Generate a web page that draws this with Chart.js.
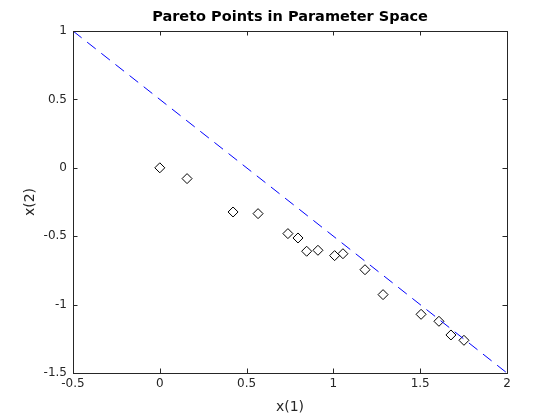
<!DOCTYPE html>
<html>
<head>
<meta charset="utf-8">
<script src="https://cdn.jsdelivr.net/npm/chart.js@4"></script>
<style>
  html, body { margin: 0; padding: 0; background: #fff; }
  #wrap { width: 560px; height: 420px; }
</style>
</head>
<body>
<div id="wrap"><canvas id="paretoChart"></canvas></div>
<script>
// pareto points
var paretoX = [0, 0.157, 0.422, 0.566, 0.738, 0.796, 0.846, 0.911, 1.007, 1.055, 1.182, 1.286, 1.505, 1.608, 1.677, 1.752];
var paretoY = [0, -0.079, -0.323, -0.335, -0.481, -0.513, -0.610, -0.603, -0.642, -0.628, -0.745, -0.927, -1.071, -1.122, -1.222, -1.261];
// dashed reference line
var lineX = [-0.5, 2];
var lineY = [1, -1.5];
// axis limits / ticks
var xTicks = [-0.5, 0, 0.5, 1, 1.5, 2];
var yTicks = [-1.5, -1, -0.5, 0, 0.5, 1];

var axisColor = '#262626';

function toPoints(xs, ys) {
    var pts = [];
    for (var i = 0; i < xs.length; i++) {
        pts.push({ x: xs[i], y: ys[i] });
    }
    return pts;
}

// box on + inward ticks on all four sides, like matlab
const boxTicks = {
    id: 'boxTicks',
    afterDraw: (chart) => {
        const { ctx, chartArea } = chart;
        const xs = chart.scales.x, ys = chart.scales.y;
        const tl = 4.5;
        ctx.save();
        ctx.strokeStyle = axisColor;
        ctx.lineWidth = 1;
        ctx.beginPath();
        ctx.rect(Math.round(chartArea.left) + 0.5, Math.round(chartArea.top) + 0.5,
            Math.round(chartArea.right - chartArea.left), Math.round(chartArea.bottom - chartArea.top));
        xTicks.forEach(function (v) {
            var px = Math.round(xs.getPixelForValue(v)) + 0.5;
            ctx.moveTo(px, chartArea.bottom);
            ctx.lineTo(px, chartArea.bottom - tl);
            ctx.moveTo(px, chartArea.top);
            ctx.lineTo(px, chartArea.top + tl);
        });
        yTicks.forEach(function (v) {
            var py = Math.round(ys.getPixelForValue(v)) + 0.5;
            ctx.moveTo(chartArea.left, py);
            ctx.lineTo(chartArea.left + tl, py);
            ctx.moveTo(chartArea.right, py);
            ctx.lineTo(chartArea.right - tl, py);
        });
        ctx.stroke();
        ctx.restore();
    }
};

const config = {
    type: 'scatter',
    data: {
        datasets: [
            {
                label: 'line',
                type: 'line',
                data: toPoints(lineX, lineY),
                borderColor: '#0000ff',
                borderWidth: 1,
                borderDash: [11, 7],
                pointRadius: 0,
                fill: false,
            },
            {
                label: 'pareto',
                data: toPoints(paretoX, paretoY),
                pointStyle: 'rectRot',
                pointRadius: 5,
                pointBorderColor: '#000000',
                pointBackgroundColor: 'rgba(0,0,0,0)',
                pointBorderWidth: 1,
            },
        ],
    },
    options: {
        responsive: true,
        maintainAspectRatio: false,
        animation: false,
        layout: {
            // title centres over the whole width minus padding, so shift it to sit over the axes
            padding: { left: 20, right: 0, top: 0, bottom: 0 },
        },
        plugins: {
            legend: { display: false },
            tooltip: { enabled: false },
            title: {
                display: true,
                text: 'Pareto Points in Parameter Space',
                color: '#000000',
                font: { family: 'DejaVu Sans', size: 14.5, weight: 'bold' },
                padding: { top: 9, bottom: 4.6 },
            },
        },
        scales: {
            x: {
                type: 'linear',
                min: -0.5,
                max: 2,
                afterFit: (scale) => { scale.height = 47; },
                afterBuildTicks: (scale) => { scale.ticks = xTicks.map(v => ({ value: v })); },
                grid: { display: false, drawTicks: false },
                border: { display: true, color: axisColor, width: 1 },
                ticks: {
                    color: axisColor,
                    padding: 4,
                    maxRotation: 0,
                    font: { family: 'DejaVu Sans', size: 12 },
                    callback: (v) => String(v),
                },
                title: {
                    display: true,
                    text: 'x(1)',
                    color: axisColor,
                    font: { family: 'DejaVu Sans', size: 14 },
                    padding: { top: 0, bottom: 4 },
                },
            },
            y: {
                type: 'linear',
                min: -1.5,
                max: 1,
                afterFit: (scale) => { scale.width = 53; },
                afterBuildTicks: (scale) => { scale.ticks = yTicks.map(v => ({ value: v })); },
                grid: { display: false, drawTicks: false },
                border: { display: true, color: axisColor, width: 1 },
                ticks: {
                    color: axisColor,
                    padding: 6,
                    font: { family: 'DejaVu Sans', size: 12 },
                    callback: (v) => String(v),
                },
                title: {
                    display: true,
                    text: 'x(2)',
                    color: axisColor,
                    font: { family: 'DejaVu Sans', size: 14 },
                    padding: { top: 2, bottom: 0 },
                },
            },
            // empty right axis, only there to hold the right margin
            yRight: {
                type: 'linear',
                position: 'right',
                min: -1.5,
                max: 1,
                afterFit: (scale) => { scale.width = 53; },
                grid: { display: false, drawTicks: false },
                border: { display: false },
                ticks: { display: false },
            },
        },
    },
    plugins: [boxTicks],
};

let paretoChart = new Chart(
    document.getElementById('paretoChart'),
    config
);
</script>
</body>
</html>
